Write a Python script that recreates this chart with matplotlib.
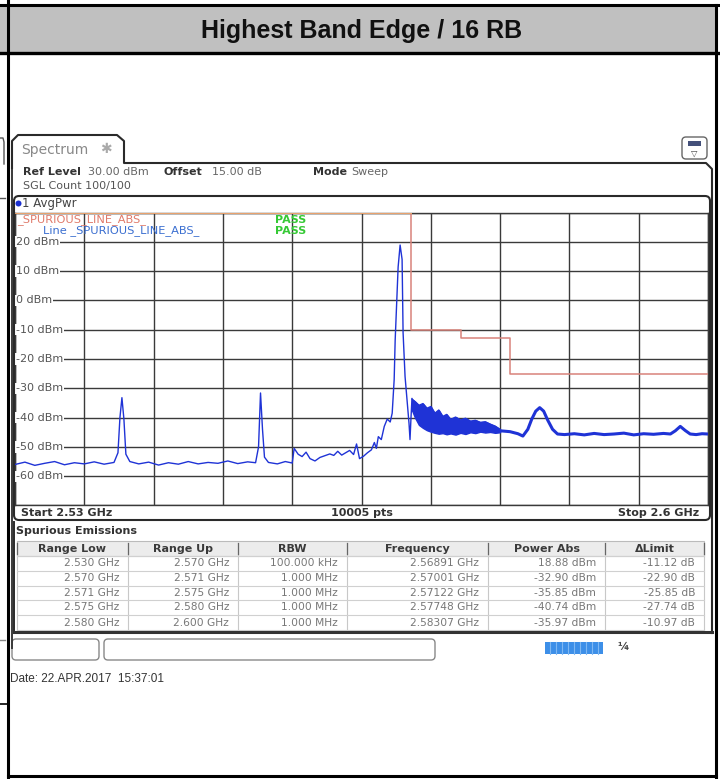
import numpy as np
import matplotlib
matplotlib.use("Agg")
import matplotlib.pyplot as plt
from matplotlib.patches import FancyBboxPatch, Rectangle, Circle

# ── Spectrum trace (GHz, dBm) ────
trace_freq = [2.5300, 2.5310, 2.5320, 2.5330, 2.5340, 2.5350, 2.5360, 2.5370, 2.5380, 2.5390, 2.5400,
              2.5404, 2.5406, 2.5408, 2.5410, 2.5412, 2.5416,
              2.5425, 2.5435, 2.5445, 2.5455, 2.5465, 2.5475, 2.5485, 2.5495, 2.5505, 2.5515, 2.5525,
              2.5535, 2.5543, 2.5546, 2.5548, 2.5550, 2.5552, 2.5556, 2.5565, 2.5573, 2.5580,
              2.5582, 2.5586, 2.5590, 2.5594, 2.5598, 2.5603, 2.5608, 2.5613, 2.5618, 2.5622, 2.5626,
              2.5630, 2.5634, 2.5638, 2.5642, 2.5645, 2.5648,
              2.5652, 2.5656, 2.5660, 2.5663, 2.5665, 2.5667, 2.5670, 2.5673, 2.5676, 2.5679, 2.5681,
              2.5683, 2.5684, 2.5687, 2.5689, 2.5691, 2.5692, 2.5694, 2.5696, 2.5698, 2.5699, 2.5700, 2.5701]
trace_level = [-56.0, -55.2, -56.3, -55.6, -55.0, -56.1, -55.4, -55.8, -55.1, -55.9, -55.3,
               -52.0, -40.0, -33.2, -40.5, -52.5, -55.0,
               -55.8, -55.2, -56.2, -55.4, -55.9, -55.0, -55.8, -55.3, -55.6, -54.8, -55.7,
               -55.1, -55.4, -50.0, -31.6, -44.0, -53.5, -55.3, -55.8, -55.0, -55.5,
               -50.5, -52.5, -53.3, -51.8, -54.0, -54.8, -53.6, -53.0, -52.4, -52.9, -51.5,
               -52.8, -52.0, -51.2, -52.6, -49.0, -54.0,
               -53.2, -52.0, -51.0, -48.5, -50.5, -46.5, -47.5, -43.0, -40.5, -41.5, -38.5,
               -27.0, -13.7, 11.4, 18.9, 14.0, -11.0, -26.0, -34.0, -42.0, -47.5, -40.0, -33.5]

# dense noisy part right after the carrier (upper / lower envelope)
band_freq = [2.5701, 2.5704, 2.5708, 2.5712, 2.5716, 2.5720, 2.5724, 2.5728, 2.5732, 2.5736, 2.5740,
             2.5745, 2.5750, 2.5755, 2.5760, 2.5765, 2.5770, 2.5775, 2.5780, 2.5785, 2.5790]
band_upper = [-33.7, -34.5, -35.8, -35.2, -36.8, -36.2, -38.5, -37.4, -39.6, -38.9, -40.6,
              -39.8, -40.8, -40.2, -41.2, -40.9, -41.6, -41.4, -42.2, -42.9, -44.0]
band_lower = [-37.5, -40.0, -42.5, -43.5, -44.3, -44.8, -45.2, -45.5, -45.3, -45.7, -45.4,
              -45.8, -45.2, -45.6, -45.0, -45.3, -44.8, -45.1, -44.9, -45.2, -45.0]

tail_freq = [2.5790, 2.5800, 2.5808, 2.5813, 2.5818, 2.5822, 2.5826, 2.5830, 2.5834, 2.5838, 2.5843,
             2.5848, 2.5855, 2.5865, 2.5875, 2.5885, 2.5895, 2.5905, 2.5915, 2.5925, 2.5935, 2.5945,
             2.5955, 2.5962, 2.5967, 2.5972, 2.5977, 2.5982, 2.5988, 2.5994, 2.6000]
tail_level = [-44.5, -44.8, -45.5, -46.3, -44.0, -40.5, -37.8, -36.6, -37.8, -40.8, -44.0,
              -45.6, -45.8, -45.5, -45.9, -45.4, -45.8, -45.6, -45.3, -45.9, -45.5, -45.7,
              -45.4, -45.6, -44.5, -43.0, -44.4, -45.6, -45.8, -45.5, -45.6]

# ── Limit line _SPURIOUS_LINE_ABS_ ────────────────────────
limit_freq = [2.530, 2.570, 2.575, 2.580, 2.600]
limit_level = [30, -10, -13, -25, -25]

y_ticks = [20, 10, 0, -10, -20, -30, -40, -50, -60]

# ── Spurious emissions table ──────────────────────────────
table_cols = ["Range Low", "Range Up", "RBW", "Frequency", "Power Abs", "\u0394Limit"]
range_low = ["2.530 GHz", "2.570 GHz", "2.571 GHz", "2.575 GHz", "2.580 GHz"]
range_up = ["2.570 GHz", "2.571 GHz", "2.575 GHz", "2.580 GHz", "2.600 GHz"]
rbw = ["100.000 kHz", "1.000 MHz", "1.000 MHz", "1.000 MHz", "1.000 MHz"]
peak_freq = ["2.56891 GHz", "2.57001 GHz", "2.57122 GHz", "2.57748 GHz", "2.58307 GHz"]
power_abs = ["18.88 dBm", "-32.90 dBm", "-35.85 dBm", "-40.74 dBm", "-35.97 dBm"]
delta_limit = ["-11.12 dB", "-22.90 dB", "-25.85 dB", "-27.74 dB", "-10.97 dB"]

# ── Figure / layout (pixel coordinates on the overlay) ────
W, H = 720, 779
fig = plt.figure(figsize=(W / 100, H / 100), dpi=100)
fig.patch.set_facecolor("white")

GX0, GX1, GY0, GY1 = 15, 708, 212.5, 505.5   # grid box in pixels
ax = fig.add_axes([GX0 / W, 1 - GY1 / H, (GX1 - GX0) / W, (GY1 - GY0) / H])
ax.set_xlim(2.53, 2.60)
ax.set_ylim(-70, 30)
ax.set_xticks(np.linspace(2.53, 2.60, 11))
ax.set_yticks(np.arange(-70, 31, 10))
ax.tick_params(length=0, labelbottom=False, labelleft=False)
ax.grid(True, color="#3a3a3a", lw=1.0)
for s in ax.spines.values():
    s.set_color("#3a3a3a")
    s.set_linewidth(1.0)

# limit line
ax.plot(limit_freq, limit_level, drawstyle="steps-post", color="#d9837a", lw=1.1, zorder=3)
ax.plot(limit_freq[:2], [30, 30], color="#eaa46e", lw=1.4, zorder=3)

# trace
blue = "#1f33d6"
ax.plot(trace_freq, trace_level, color=blue, lw=1.0, zorder=4)
ax.fill_between(band_freq, band_lower, band_upper, color=blue, lw=1.0, zorder=4)
ax.plot(band_freq, band_upper, color=blue, lw=0.9, zorder=4)
ax.plot(tail_freq, tail_level, color=blue, lw=2.2, zorder=4)

for v in y_ticks:
    ax.text(2.5301, v, f"{v} dBm", fontsize=8, color="#555555", va="center", ha="left",
            bbox=dict(facecolor="white", edgecolor="none", pad=0.5), zorder=5)

# ── Overlay for frames and text ───────────────────────────
ov = fig.add_axes([0, 0, 1, 1], zorder=10)
ov.set_xlim(0, W)
ov.set_ylim(H, 0)
ov.axis("off")
ov.patch.set_alpha(0)

def box(x, y, w, h, r=5, lw=1.4, ec="#2a2a2a", fc="none", z=1):
    ov.add_patch(FancyBboxPatch((x, y), w, h, boxstyle=f"round,pad=0,rounding_size={r}",
                                lw=lw, ec=ec, fc=fc, zorder=z))

def txt(x, y, s, **kw):
    kw.setdefault("fontsize", 8)
    kw.setdefault("color", "#333333")
    kw.setdefault("va", "center")
    ov.text(x, y, s, **kw)

# document table: header row and borders
ov.add_patch(Rectangle((0, 5), 716, 48, fc="#c0c0c0", ec="none", zorder=0))
ov.plot([0, 720], [5, 5], color="black", lw=2.2)
ov.plot([0, 720], [53, 53], color="black", lw=2.4)
ov.plot([8, 8], [0, H], color="black", lw=2.2)
ov.plot([716, 716], [5, H], color="black", lw=2.2)
ov.plot([8, 716], [776, 776], color="black", lw=2.2)
ov.plot([0, 8], [704, 704], color="black", lw=1.2)
ov.text(362, 31, "Highest Band Edge / 16 RB", fontsize=18, fontweight="bold", ha="center",
        va="center", family=["Liberation Sans Narrow", "Liberation Sans"], color="#111111")

# fragments of the neighbouring screen shot at the left edge
ov.plot([0, 3, 4, 4], [138, 138, 142, 164], color="#555555", lw=1.0)
ov.plot([0, 5], [198, 198], color="#555555", lw=1.0)
ov.plot([0, 5], [640, 640], color="#888888", lw=1.0)
ov.plot([12, 12], [168, 648], color="#3a3a3a", lw=1.4)

# Spectrum tab and panel outline
ov.plot([12, 12, 18, 117, 124, 124, 706, 712, 712],
        [168, 141, 135, 135, 141, 163, 163, 169, 633], color="#2a2a2a", lw=1.5)
txt(21, 150, "Spectrum", fontsize=10, color="#888888")
txt(100, 149, "\u2731", fontsize=10, color="#aaaaaa")
box(682, 137, 25, 22, r=4, lw=1.0, ec="#666666")
ov.add_patch(Rectangle((688, 141), 13, 5, fc="#44507a", ec="none", zorder=2))
txt(694.5, 153, "\u25bd", fontsize=6, ha="center", color="#444444")

# instrument settings
txt(23, 172, "Ref Level", fontweight="bold")
txt(88, 172, "30.00 dBm", color="#666666")
txt(163, 172, "Offset", fontweight="bold")
txt(212, 172, "15.00 dB", color="#666666")
txt(313, 172, "Mode", fontweight="bold")
txt(351, 172, "Sweep", color="#666666")
txt(23, 186, "SGL Count 100/100", color="#555555")

# diagram frame
box(14, 196, 696, 324, r=5, lw=1.5)
ov.add_patch(Circle((18.5, 203.5), 3, fc="#1a2fd0", ec="none", zorder=3))
txt(22, 203.5, "1 AvgPwr", fontsize=8.5, color="#444444")
txt(17, 219.5, "_SPURIOUS_LINE_ABS_", fontsize=8.2, color="#e07a6a")
txt(43, 231, "Line _SPURIOUS_LINE_ABS_", fontsize=8.2, color="#3a6ed0")
txt(275, 219.5, "PASS", fontsize=8, color="#35c935", fontweight="bold")
txt(275, 231, "PASS", fontsize=8, color="#35c935", fontweight="bold")
txt(21, 513, "Start 2.53 GHz", fontweight="bold")
txt(362, 513, "10005 pts", fontweight="bold", ha="center")
txt(699, 513, "Stop 2.6 GHz", fontweight="bold", ha="right")

# spurious emissions table
ov.plot([14, 14], [522, 630], color="#2a2a2a", lw=1.4)
ov.plot([14, 712], [632, 632], color="#333333", lw=2.2)
txt(16, 531, "Spurious Emissions", fontweight="bold")
col_edges = [17, 128, 238, 347, 488, 605, 704]
row_lines = [556, 571, 585.5, 600, 615, 630]
ov.add_patch(Rectangle((17, 541), 687, 15, fc="#ececec", ec="#bbbbbb", lw=0.8, zorder=0))
for i, name in enumerate(table_cols):
    txt((col_edges[i] + col_edges[i + 1]) / 2, 548.5, name, fontweight="bold",
        ha="center", color="#3a3a3a")
for ex in col_edges:
    ov.plot([ex, ex], [543, 630], color="#c8c8c8", lw=0.8, zorder=0)
    ov.plot([ex, ex], [543, 554], color="#666666", lw=0.9, zorder=1)
for ry in row_lines:
    ov.plot([17, 704], [ry, ry], color="#d0d0d0", lw=0.8, zorder=0)
columns = [range_low, range_up, rbw, peak_freq, power_abs, delta_limit]
for c, values in enumerate(columns):
    for r, val in enumerate(values):
        yc = (row_lines[r] + row_lines[r + 1]) / 2
        txt(col_edges[c + 1] - 9, yc, val, fontsize=7.7, ha="right", color="#777777")

# status bar
box(12, 639, 87, 21, r=4, lw=1.0, ec="#888888")
box(104, 639, 331, 21, r=4, lw=1.0, ec="#888888")
ov.add_patch(Rectangle((545, 642), 58, 12, fc="#3d8fe8", ec="none", zorder=2))
for sx in np.arange(550, 603, 6):
    ov.plot([sx, sx], [642, 654], color="#7fb8f3", lw=0.8, zorder=3)
txt(617, 647, "\u00bc", fontsize=8, color="#444444", fontweight="bold")

txt(10, 679, "Date: 22.APR.2017  15:37:01", fontsize=8.5, color="#333333",
    family="Liberation Sans")

fig.savefig("out.png", dpi=100)
